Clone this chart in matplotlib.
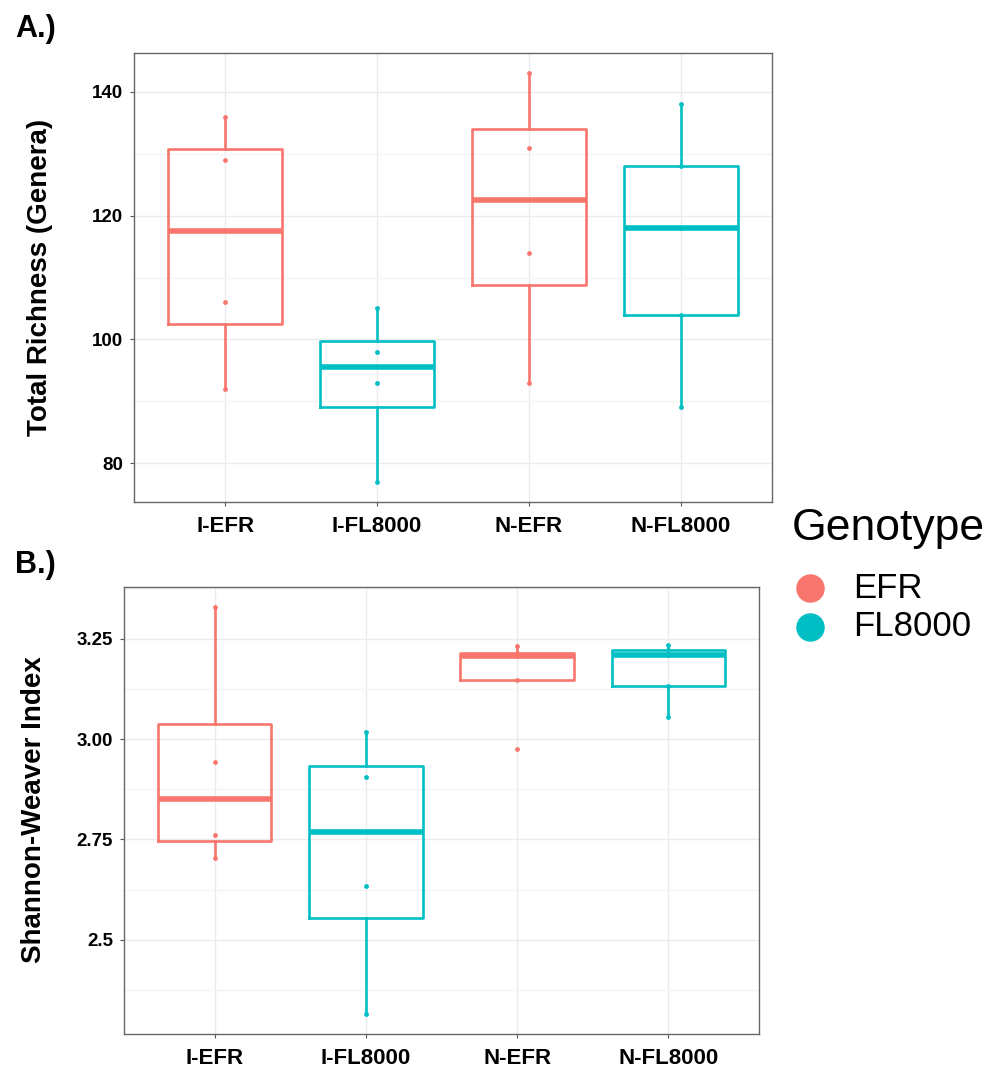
import matplotlib
matplotlib.use("Agg")
import matplotlib.pyplot as plt
from matplotlib.lines import Line2D
import numpy as np

plt.rcParams['font.family'] = ['Liberation Sans', 'DejaVu Sans']

# Groups and their genotype
groups = ['I-EFR', 'I-FL8000', 'N-EFR', 'N-FL8000']
genotype = ['EFR', 'FL8000', 'EFR', 'FL8000']
colors = {'EFR': '#F8766D', 'FL8000': '#00BFC4'}

# A.) total richness (genera) per sample
richness_i_efr = [92, 106, 129, 136]
richness_i_fl8000 = [77, 93, 98, 105]
richness_n_efr = [93, 114, 131, 143]
richness_n_fl8000 = [89, 104, 118, 128, 138]

# B.) Shannon-Weaver index per sample
shannon_i_efr = [2.703, 2.761, 2.942, 3.328]
shannon_i_fl8000 = [2.316, 2.633, 2.906, 3.017]
shannon_n_efr = [2.976, 3.148, 3.207, 3.215, 3.231]
shannon_n_fl8000 = [3.055, 3.133, 3.210, 3.222, 3.234]

richness = [richness_i_efr, richness_i_fl8000, richness_n_efr, richness_n_fl8000]
shannon = [shannon_i_efr, shannon_i_fl8000, shannon_n_efr, shannon_n_fl8000]

richness_ticks = [80, 100, 120, 140]
richness_minor = [90, 110, 130]
shannon_ticks = [2.5, 2.75, 3.0, 3.25]
shannon_tick_labels = ['2.5', '2.75', '3.00', '3.25']
shannon_minor = [2.375, 2.625, 2.875, 3.125, 3.375]


def draw_panel(ax, data, ticks, tick_labels, minor):
    """ggplot-like boxplot with the raw points behind the box lines."""
    pos = np.arange(1, len(data) + 1)
    bp = ax.boxplot(data, positions=pos, widths=0.75, whis=1.5,
                    showfliers=False, showcaps=False, patch_artist=False)
    for i, g in enumerate(genotype):
        c = colors[g]
        bp['boxes'][i].set(color=c, linewidth=1.9, zorder=3)
        bp['medians'][i].set(color=c, linewidth=4.0, solid_capstyle='butt', zorder=3)
        for w in bp['whiskers'][2 * i:2 * i + 2]:
            w.set(color=c, linewidth=1.9, zorder=3)
        ax.scatter(np.full(len(data[i]), pos[i]), data[i], s=12, color=c,
                   zorder=2.5, linewidths=0)

    # data range + 5% like ggplot
    lo = min(min(d) for d in data)
    hi = max(max(d) for d in data)
    pad = (hi - lo) * 0.05
    ax.set_ylim(lo - pad, hi + pad)
    ax.set_xlim(0.4, len(data) + 0.6)

    ax.set_yticks(ticks)
    ax.set_yticklabels(tick_labels, fontsize=13.5, fontweight='bold')
    ax.set_yticks(minor, minor=True)
    ax.set_xticks(pos)
    ax.set_xticklabels(groups, fontsize=16, fontweight='bold')
    ax.tick_params(axis='both', which='major', length=3, width=0.8,
                   color='#555555', labelcolor='black')
    ax.tick_params(axis='y', which='major', pad=5)
    ax.tick_params(axis='x', which='major', pad=7)
    ax.tick_params(axis='y', which='minor', length=0)

    ax.grid(True, which='major', color='#EBEBEB', linewidth=1.0, zorder=0)
    ax.grid(True, which='minor', axis='y', color='#F4F4F4', linewidth=1.0, zorder=0)
    ax.set_axisbelow(True)
    for s in ax.spines.values():
        s.set_color('#666666')
        s.set_linewidth(1.0)


W, H = 989, 1067
fig = plt.figure(figsize=(W / 100, H / 100), dpi=100)

# panel positions in pixels -> figure fractions
axA = fig.add_axes([134 / W, 1 - 502 / H, (772 - 134) / W, (502 - 53) / H])
axB = fig.add_axes([124 / W, 1 - 1034 / H, (759 - 124) / W, (1034 - 587) / H])

draw_panel(axA, richness, richness_ticks, [str(t) for t in richness_ticks],
           richness_minor)
draw_panel(axB, shannon, shannon_ticks, shannon_tick_labels, shannon_minor)

# axis titles
fig.text(40 / W, 1 - 277.5 / H, 'Total Richness (Genera)', rotation=90,
         ha='center', va='center', fontsize=20, fontweight='bold')
fig.text(34 / W, 1 - 810 / H, 'Shannon-Weaver Index', rotation=90,
         ha='center', va='center', fontsize=20, fontweight='bold')

# panel tags
fig.text(15 / W, 1 - 37 / H, 'A.)', ha='left', va='baseline',
         fontsize=22, fontweight='bold')
fig.text(15 / W, 1 - 573 / H, 'B.)', ha='left', va='baseline',
         fontsize=22, fontweight='bold')

# legend
fig.text(792 / W, 1 - 540 / H, 'Genotype', ha='left', va='baseline', fontsize=32)
for g, ycen in zip(['EFR', 'FL8000'], [588, 627]):
    fig.add_artist(Line2D([810 / W], [1 - ycen / H], marker='o', markersize=19.5,
                          color=colors[g], linestyle='none',
                          transform=fig.transFigure))
    fig.text(853 / W, 1 - ycen / H, g, ha='left', va='center', fontsize=25)

plt.savefig('out.png', dpi=100)
